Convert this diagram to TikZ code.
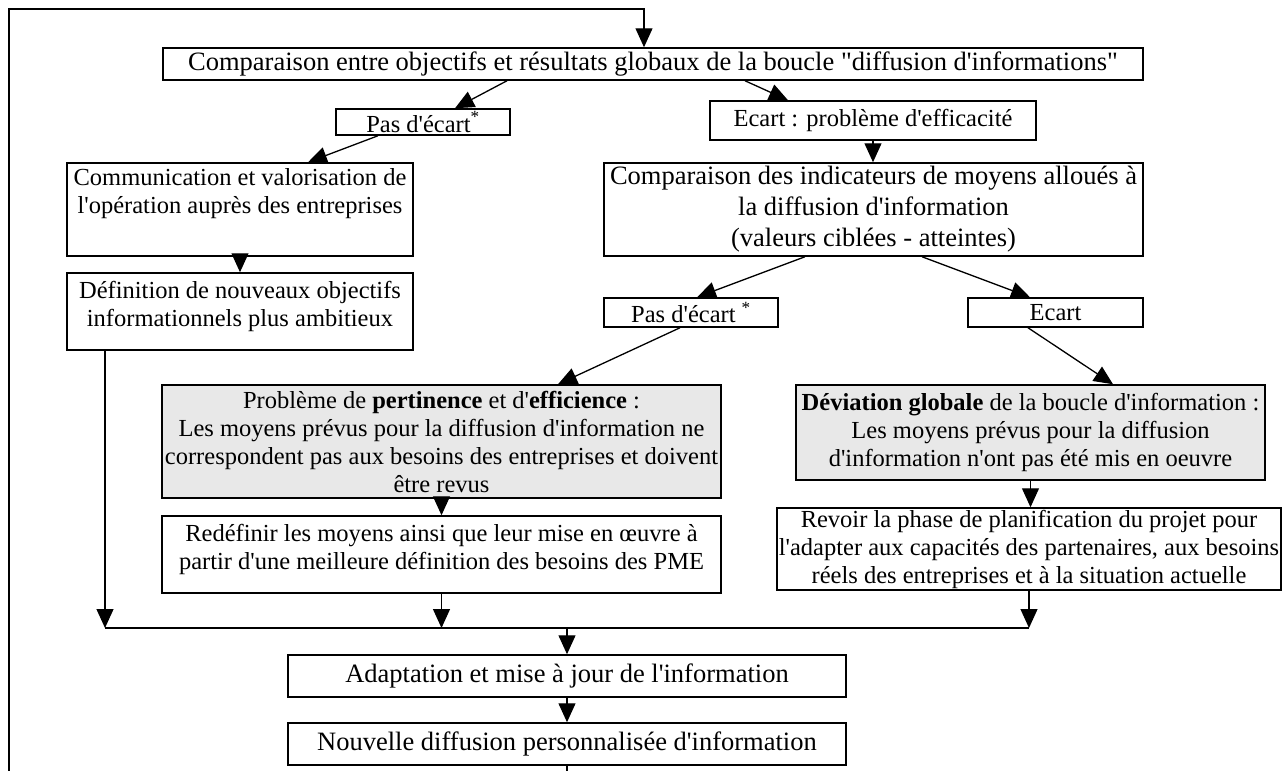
\documentclass[tikz,border=0pt]{standalone}
\usepackage{fontspec}
\setmainfont{Liberation Serif}[Ligatures=TeXOff]
\usetikzlibrary{arrows.meta, positioning, calc}

\begin{document}
\begin{tikzpicture}[
  x=1pt, y=-1pt,
  box/.style={rectangle, draw, line width=1.5pt, inner sep=0pt, align=center, font=\fontsize{24.5}{28}\selectfont},
  bigbox/.style={box, font=\fontsize{26.5}{30}\selectfont},
  gbox/.style={box, fill=black!9},
  arr/.style={-{Triangle[length=19pt, width=17pt]}, line width=1.3pt},
  link/.style={line width=1.3pt},
]
\useasboundingbox (0,0) rectangle (1288,771);

% === Top: global comparison ===
\node[bigbox, minimum width=980, minimum height=32] (glob) at (653,64) {Comparaison entre objectifs et résultats globaux de la boucle "diffusion d'informations"};

% === First split ===
\node[box, minimum width=174, minimum height=26] (pas1) at (423,122) {Pas d'écart\textsuperscript{*}};
\node[box, minimum width=326, minimum height=39] (ecart1) at (873,120.5) {Ecart : problème d'efficacité};

% === Left branch ===
\node[box, minimum width=346, minimum height=93] (comm) at (240,209.5) {Communication et valorisation de\\l'opération auprès des entreprises\\[9pt]~};
\node[box, minimum width=346, minimum height=77] (defobj) at (240,311.5) {Définition de nouveaux objectifs\\informationnels plus ambitieux\\[-13pt]~};

% === Right branch: means indicators ===
\node[bigbox, minimum width=539, minimum height=93] (cmpmoy) at (873.5,209.5) {Comparaison des indicateurs de moyens alloués à\\[1pt]la diffusion d'information\\[1pt](valeurs ciblées - atteintes)};
\node[box, minimum width=174, minimum height=29] (pas2) at (691,312.5) {Pas d'écart \textsuperscript{*}};
\node[box, minimum width=175, minimum height=29] (ecart2) at (1055.5,312.5) {Ecart};

% === Diagnoses ===
\node[gbox, minimum width=559, minimum height=113] (pert) at (441.5,441.5) {Problème de \textbf{pertinence} et d'\textbf{efficience} :\\Les moyens prévus pour la diffusion d'information ne\\correspondent pas aux besoins des entreprises et doivent\\être revus};
\node[gbox, minimum width=469, minimum height=95] (devi) at (1030.5,432.5) {\textbf{Déviation globale} de la boucle d'information :\\Les moyens prévus pour la diffusion\\d'information n'ont pas été mis en oeuvre};

% === Corrective actions ===
\node[box, minimum width=559, minimum height=77] (redef) at (441.5,554.5) {Redéfinir les moyens ainsi que leur mise en œuvre à\\partir d'une meilleure définition des besoins des PME\\[-13pt]~};
\node[box, minimum width=504, minimum height=82] (revoir) at (1029,549) {Revoir la phase de planification du projet pour\\l'adapter aux capacités des partenaires, aux besoins\\réels des entreprises et à la situation actuelle};

% === Bottom: update and new diffusion ===
\node[bigbox, minimum width=558, minimum height=42] (adapt) at (567,676) {Adaptation et mise à jour de l'information};
\node[bigbox, minimum width=558, minimum height=42] (nouv) at (567,744) {Nouvelle diffusion personnalisée d'information};

% === Arrows ===
\draw[arr] ([xshift=-146]glob.south) -- ([xshift=32]pas1.north);
\draw[arr] ([xshift=92]glob.south) -- ([xshift=-85]ecart1.north);
\draw[arr] ([xshift=-45]pas1.south) -- ([xshift=68]comm.north);
\draw[arr] (ecart1.south) -- (ecart1.south |- cmpmoy.north);
\draw[arr] (comm) -- (defobj);
\draw[arr] ([xshift=-68.5]cmpmoy.south) -- ([xshift=6]pas2.north);
\draw[arr] ([xshift=48.5]cmpmoy.south) -- ([xshift=-25.5]ecart2.north);
\draw[arr] ([xshift=-11]pas2.south) -- ([xshift=116.5]pert.north);
\draw[arr] ([xshift=-27.5]ecart2.south) -- ([xshift=82.5]devi.north);
\draw[arr] (pert) -- (redef);
\draw[arr] (devi.south) -- (devi.south |- revoir.north);

% join line towards the update
\coordinate (jl) at (105,628);
\coordinate (jr) at (revoir.south |- jl);
\draw[arr] ([xshift=-135]defobj.south) -- (jl);
\draw[arr] (redef.south) -- (redef.south |- jl);
\draw[arr] (revoir.south) -- (jr);
\draw[link] (jl) -- (jr);
\draw[arr] (adapt.north |- jl) -- (adapt.north);
\draw[arr] (adapt) -- (nouv);

% feedback loop back to the top
\coordinate (lb) at (9,771);
\coordinate (lt) at (9,9);
\draw[link] (nouv.south) -- (nouv.south |- lb);
\draw[arr] (lb) -- (lt) -| ([xshift=-9]glob.north);
\end{tikzpicture}
\end{document}
